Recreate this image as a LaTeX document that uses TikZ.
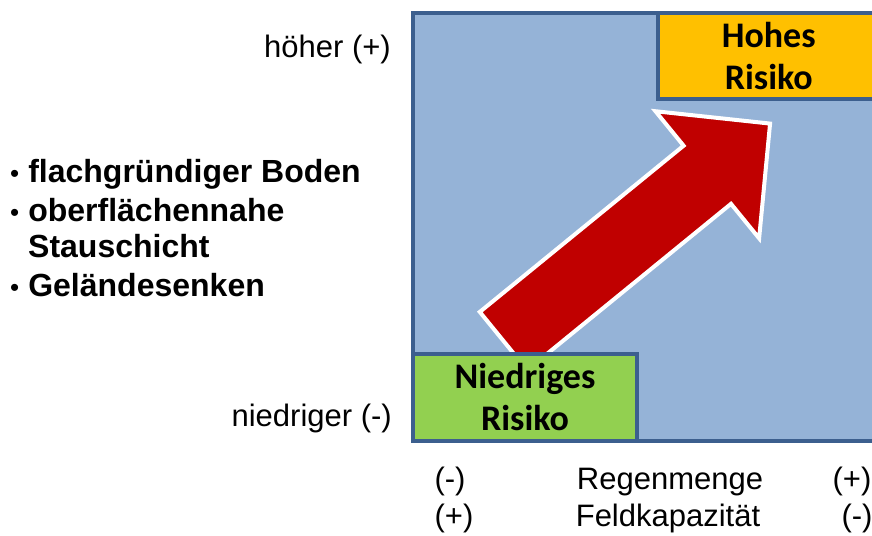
\documentclass[tikz,border=0pt]{standalone}
\usepackage{fontspec}
\setmainfont{Liberation Sans}
\newfontfamily\calibri{Carlito}
\usetikzlibrary{positioning}
\definecolor{feldblau}{HTML}{95B3D7}
\definecolor{randblau}{HTML}{3C5F8E}
\definecolor{pfeilrot}{HTML}{C00000}
\definecolor{hochgelb}{HTML}{FFC000}
\definecolor{tiefgruen}{HTML}{92D050}
\newcommand{\punkt}{{\mdseries\fontsize{26}{38}\selectfont •}\hspace{9pt}}
\tikzset{
  rahmen/.style={draw=randblau,line width=4pt,inner sep=0pt,outer sep=0pt,anchor=north west},
  riskbox/.style={rahmen,align=center,font=\calibri\bfseries\fontsize{36}{42}\selectfont},
  achse/.style={anchor=base,inner sep=0pt},
  merkmal/.style={anchor=base west,inner sep=0pt,font=\bfseries\fontsize{32}{38}\selectfont}
}

\begin{document}
\begin{tikzpicture}[x=1pt,y=1pt,font=\fontsize{31}{37}\selectfont]
\clip (0,0) rectangle (872,535);
\node[rahmen,fill=feldblau,minimum width=468pt,minimum height=428pt] (feld) at (413,522) {};

% Pfeil von niedrig nach hoch
\begin{scope}[shift={(503.5,194)},rotate=39.2]
\draw[draw=white,line width=4pt,fill=pfeilrot,line join=miter]
  (0,-37.5) -- (263,-37.5) -- (263,-82) -- (344,0) -- (263,82) -- (263,37.5) -- (0,37.5) -- cycle;
\end{scope}

\node[riskbox,fill=hochgelb,minimum width=222.5pt,minimum height=86.5pt] (hoch) at (657.5,522) {Hohes\\Risiko};
\node[riskbox,fill=tiefgruen,minimum width=224pt,minimum height=87pt] (niedrig) at (413,181) {Niedriges\\Risiko};

\node[anchor=base east,inner sep=0pt] (hoeher) at (391,477) {höher (+)};
\node[anchor=base east,inner sep=0pt] (niedriger) at (392,108) {niedriger (-)};

\node[merkmal] (boden) at (10,352) {\punkt flachgründiger Boden};
\node[merkmal] (stau) at (10,313) {\punkt oberflächennahe};
\node[merkmal] (stauB) at (28,277) {Stauschicht};
\node[merkmal] (senke) at (10,238) {\punkt Geländesenken};

\node[achse] (regenMin) at (450,45) {(-)};
\node[achse] (regen) at (670,45) {Regenmenge};
\node[achse] (regenMax) at (852,45) {(+)};
\node[achse] (feldkPlus) at (454,9) {(+)};
\node[achse] (feldk) at (668,9) {Feldkapazität};
\node[achse] (feldkMinus) at (857,9) {(-)};
\end{tikzpicture}
\end{document}
